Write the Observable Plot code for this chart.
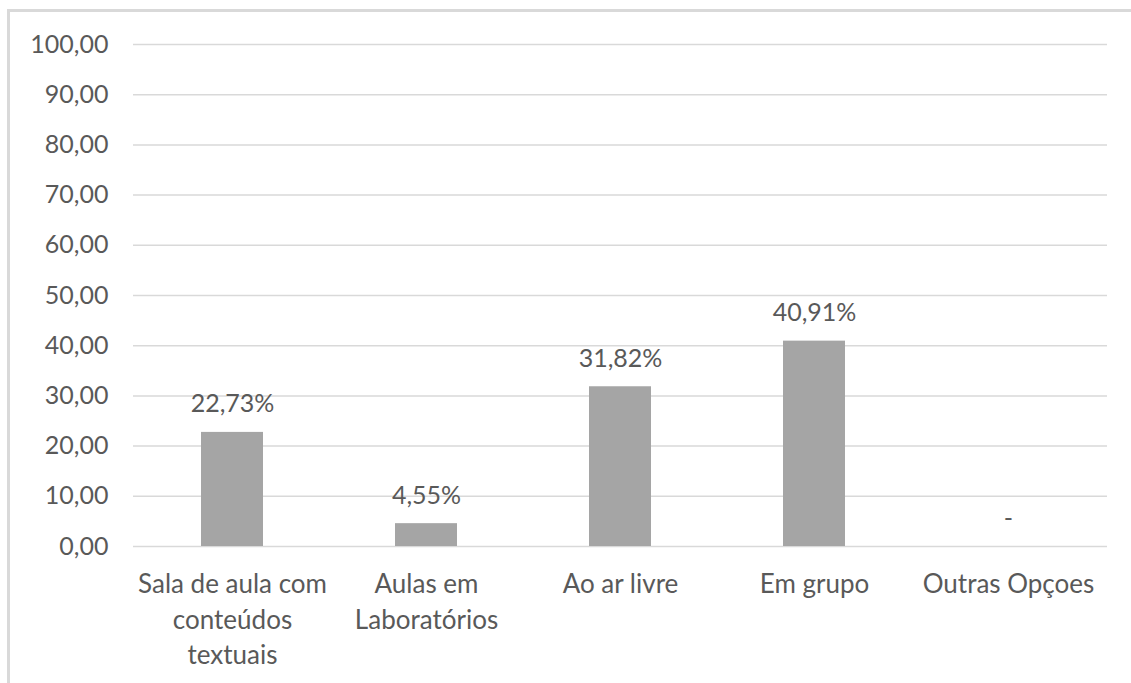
<!DOCTYPE html>
<html>
<head>
<meta charset="utf-8">
<script src="https://cdn.jsdelivr.net/npm/d3@7"></script>
<script src="https://cdn.jsdelivr.net/npm/@observablehq/plot@0.6"></script>
<style>
  html, body { margin: 0; padding: 0; background: #fff; }
  #frame {
    position: absolute; left: 7px; top: 9px;
    width: 1124px; height: 674px;
    border-top: 3px solid #d9d9d9; border-left: 3px solid #d9d9d9;
  }
  #frame svg { display: block; }
</style>
</head>
<body>
<div id="frame"></div>
<script>
// Preferred teaching environments (share of answers, %)
const categories = ["Sala de aula com conteúdos textuais", "Aulas em Laboratórios", "Ao ar livre", "Em grupo", "Outras Opçoes"];
const tickLabels = ["Sala de aula com\nconteúdos\ntextuais", "Aulas em\nLaboratórios", "Ao ar livre", "Em grupo", "Outras Opçoes"];
const values = [22.73, 4.55, 31.82, 40.91, 0];
const yTicks = [0, 10, 20, 30, 40, 50, 60, 70, 80, 90, 100];

const data = categories.map((c, i) => ({category: c, value: values[i]}));
const labelOf = new Map(categories.map((c, i) => [c, tickLabels[i]]));
const comma = (v, d = 2) => v.toFixed(d).replace(".", ",");
const pct = v => v === 0 ? "-" : comma(v) + "%";

const ink = "#595959";
const font = "Lato, 'Open Sans', sans-serif";

const chart = Plot.plot({
  width: 1121,
  height: 671,
  marginLeft: 123,
  marginRight: 24,
  marginTop: 32,
  marginBottom: 137,
  style: {fontFamily: font, fontSize: "25px", color: ink, background: "#fff"},
  x: {domain: categories, paddingInner: 0.68, paddingOuter: 0.34, label: null},
  y: {domain: [0, 100], label: null},
  marks: [
    Plot.ruleY(yTicks, {stroke: "#d9d9d9", strokeWidth: 1.5}),
    Plot.barY(data, {x: "category", y: "value", fill: "#a5a5a5"}),
    Plot.text(data, {
      x: "category", y: "value", text: d => pct(d.value),
      dy: -28, lineAnchor: "middle", fill: ink, fontSize: 25
    }),
    Plot.axisY({
      ticks: yTicks, tickFormat: v => comma(v), tickSize: 0, tickPadding: 25,
      fontSize: 25, fill: ink
    }),
    Plot.axisX({
      tickFormat: c => labelOf.get(c), tickSize: 0, tickPadding: 22,
      fontSize: 26, lineHeight: 1.35, fill: ink, lineWidth: 100
    })
  ]
});
document.getElementById("frame").appendChild(chart);
</script>
</body>
</html>
